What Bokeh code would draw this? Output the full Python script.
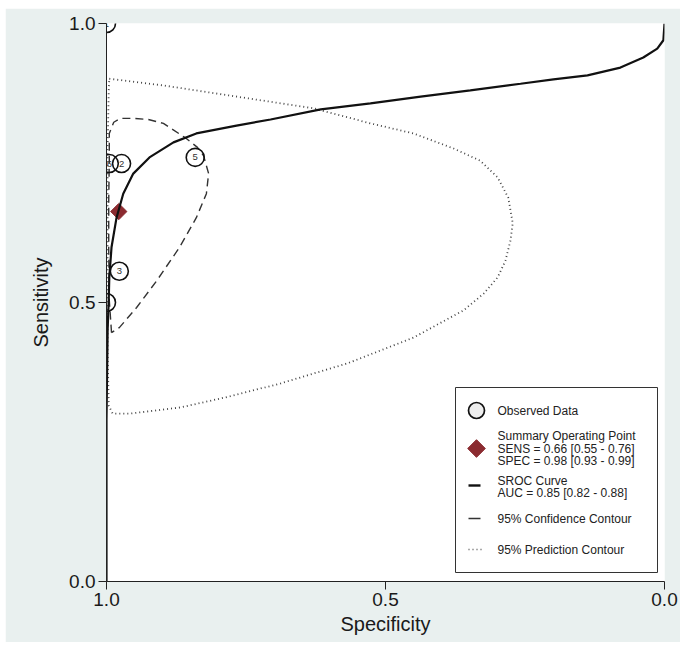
import math
from bokeh.plotting import figure
from bokeh.layouts import column, row
from bokeh.models import Range1d, FixedTicker, NumeralTickFormatter, Label, Spacer
from bokeh.core.properties import value
from bokeh.embed import file_html
from bokeh.resources import INLINE

FONT = "Liberation Sans"

# ---- data ----
study_ids = ["1", "2", "3", "4", "5", "6"]
study_spec = [1.000, 0.973, 0.977, 1.000, 0.841, 0.995]
study_sens = [1.000, 0.749, 0.556, 0.500, 0.760, 0.749]
study_label_shown = ["1", "2", "3", "", "5", "6"]

summary_spec = [0.978]
summary_sens = [0.663]

sroc_spec = [1.000, 1.000, 0.998, 0.996, 0.995, 0.991, 0.982, 0.970, 0.952, 0.923,
             0.880, 0.839, 0.767, 0.706, 0.616, 0.527, 0.437, 0.348, 0.258, 0.199,
             0.138, 0.079, 0.038, 0.013, 0.002, 0.000]
sroc_sens = [0.000, 0.289, 0.450, 0.504, 0.545, 0.599, 0.652, 0.695, 0.731, 0.760,
             0.787, 0.803, 0.817, 0.828, 0.846, 0.857, 0.869, 0.880, 0.892, 0.900,
             0.907, 0.921, 0.939, 0.955, 0.970, 1.000]

conf_spec = [0.991, 0.995, 0.996, 0.996, 0.995, 0.995, 0.987, 0.975, 0.952, 0.925,
             0.898, 0.857, 0.837, 0.826, 0.817, 0.821, 0.839, 0.869, 0.910, 0.946,
             0.977, 0.991]
conf_sens = [0.446, 0.504, 0.593, 0.683, 0.754, 0.803, 0.823, 0.830, 0.830, 0.828,
             0.821, 0.794, 0.778, 0.763, 0.731, 0.695, 0.652, 0.599, 0.539, 0.491,
             0.455, 0.446]

pred_spec = [0.995, 0.939, 0.898, 0.780, 0.629, 0.527, 0.450, 0.378, 0.330, 0.299,
             0.280, 0.272, 0.276, 0.285, 0.299, 0.324, 0.360, 0.450, 0.568, 0.688,
             0.778, 0.867, 0.957, 0.989, 0.996, 0.998, 0.998, 0.998, 0.996, 0.995]
pred_sens = [0.901, 0.894, 0.889, 0.871, 0.848, 0.821, 0.803, 0.776, 0.754, 0.724,
             0.688, 0.642, 0.611, 0.575, 0.545, 0.516, 0.486, 0.437, 0.391, 0.355,
             0.332, 0.312, 0.301, 0.301, 0.315, 0.414, 0.593, 0.772, 0.880, 0.901]

tick_values = [0.0, 0.5, 1.0]

legend_lines = [
    ["Observed Data"],
    ["Summary Operating Point", "SENS = 0.66 [0.55 - 0.76]", "SPEC = 0.98 [0.93 - 0.99]"],
    ["SROC Curve", "AUC = 0.85 [0.82 - 0.88]"],
    ["95% Confidence Contour"],
    ["95% Prediction Contour"],
]

# ---- figure ----
p = figure(width=675, height=634, output_backend="svg", toolbar_location=None,
           x_range=Range1d(1, 0), y_range=Range1d(0, 1),
           min_border_left=101, min_border_right=16, min_border_top=15,
           min_border_bottom=61)
p.border_fill_color = "#e9f0ef"
p.background_fill_color = "white"
p.outline_line_color = None
p.grid.visible = False

for ax in (p.xaxis, p.yaxis):
    ax.ticker = FixedTicker(ticks=tick_values)
    ax.formatter = NumeralTickFormatter(format="0.0")
    ax.minor_tick_line_color = None
    ax.major_tick_in = 0
    ax.major_tick_out = 8
    ax.axis_line_color = "#222222"
    ax.major_tick_line_color = "#222222"
    ax.major_label_text_font = FONT
    ax.major_label_text_font_size = "19px"
    ax.major_label_text_color = "#1a1a1a"
    ax.axis_label_text_font = FONT
    ax.axis_label_text_font_size = "20px"
    ax.axis_label_text_font_style = "normal"
    ax.axis_label_text_color = "#1a1a1a"

p.xaxis.axis_label = "Specificity"
p.yaxis.axis_label = "Sensitivity"
p.xaxis.major_label_standoff = 3
p.xaxis.axis_label_standoff = 4
p.yaxis.major_label_standoff = 3
p.yaxis.axis_label_standoff = 14

# contours
p.line(pred_spec, pred_sens, line_color="#444444", line_width=1.8, line_dash="1 3")
p.line(conf_spec, conf_sens, line_color="#333333", line_width=1.4, line_dash="8 5")

# summary point
p.scatter(summary_spec, summary_sens, marker="square", angle=math.pi / 4, size=11.5,
          fill_color="#8b2b30", line_color="#8b2b30")

# SROC curve
p.line(sroc_spec, sroc_sens, line_color="#111111", line_width=2.2)

# observed studies
p.scatter(study_spec, study_sens, marker="circle", size=18, fill_color=None,
          line_color="#111111", line_width=1.6)
p.text(study_spec, study_sens, text=study_label_shown, text_align="center",
       text_baseline="middle", text_font=value(FONT), text_font_size="9.5px",
       text_color="#333333")

# ---- legend (drawn inside the frame) ----
def px2x(px):
    return 1 - (px - 106) / 558.0

def py2y(py):
    return (581 - py) / 558.0

p.quad(left=[px2x(455)], right=[px2x(657)], top=[py2y(387)], bottom=[py2y(572)],
       fill_color="white", line_color="#333333", line_width=1)

p.scatter([px2x(476)], [py2y(410)], marker="circle", size=16, fill_color="#eeeeee",
          line_color="#111111", line_width=1.7)
p.scatter([px2x(476)], [py2y(448)], marker="square", angle=math.pi / 4, size=12.5,
          fill_color="#8b2b30", line_color="#8b2b30")
p.line([px2x(468), px2x(480)], [py2y(485), py2y(485)], line_color="#111111", line_width=2.4)
p.line([px2x(468), px2x(480)], [py2y(518), py2y(518)], line_color="#333333", line_width=1.5)
p.line([px2x(468), px2x(481)], [py2y(549), py2y(549)], line_color="#555555",
       line_width=1.4, line_dash="1 3")

legend_y = [[410], [435, 448, 460], [480, 492], [518], [549]]
for lines, ys in zip(legend_lines, legend_y):
    for t, yy in zip(lines, ys):
        p.add_layout(Label(x=px2x(497), y=py2y(yy), text=t, text_baseline="middle",
                           text_font=FONT, text_font_size="12px", text_color="#222222"))

layout = column(Spacer(height=8), row(Spacer(width=5), p))
open("out.html", "w").write(file_html(layout, INLINE))
